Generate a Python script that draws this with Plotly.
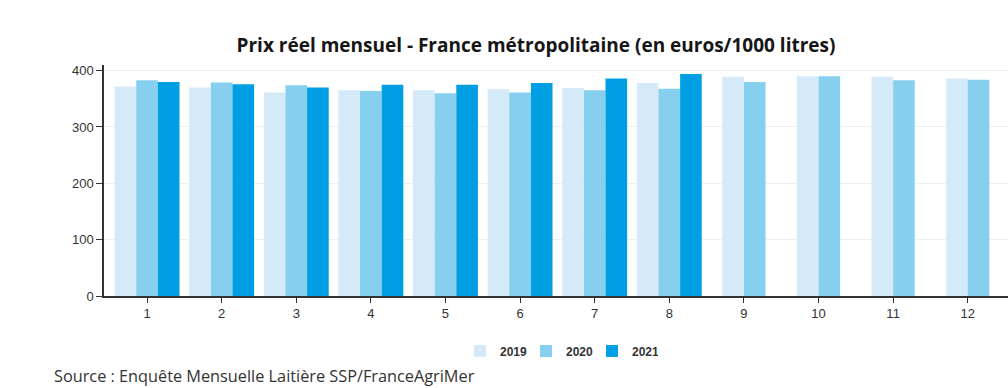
import plotly.graph_objects as go

months = [1, 2, 3, 4, 5, 6, 7, 8, 9, 10, 11, 12]
tick_labels = ["1", "2", "3", "4", "5", "6", "7", "8", "9", "10", "11", "12"]
prix_2019 = [372, 370, 361, 365, 365, 367, 369, 378, 389, 390, 389, 386]
prix_2020 = [383, 379, 374, 364, 360, 361, 365, 368, 380, 390, 383, 384]
prix_2021 = [380, 376, 370, 375, 375, 378, 386, 394]

series = [
    ("2019", prix_2019, "#d5eaf9"),
    ("2020", prix_2020, "#86cfee"),
    ("2021", prix_2021, "#009fe3"),
]

bar_w = 0.29
fig = go.Figure()
for idx, (name, vals, color) in enumerate(series):
    xs, offs = [], []
    for i, v in enumerate(vals):
        n_present = sum(1 for _, s, _ in series if i < len(s) and s[i] is not None)
        xs.append(months[i])
        offs.append(-n_present * bar_w / 2 + idx * bar_w)
    fig.add_trace(go.Bar(
        x=xs, y=vals, name=name, marker=dict(color=color, line=dict(width=0)),
        width=bar_w, offset=offs,
    ))

fig.update_layout(
    width=1008, height=388,
    margin=dict(l=104, r=0, t=65, b=92),
    paper_bgcolor="white", plot_bgcolor="white",
    barmode="overlay",
    title=dict(
        text="<b>Prix réel mensuel - France métropolitaine (en euros/1000 litres)</b>",
        x=536 / 1008, xanchor="center", y=1 - 45 / 388, yanchor="middle",
        font=dict(family="Open Sans", size=19, color="#161616"),
    ),
    xaxis=dict(
        range=[0.423, 12.54], tickmode="array", tickvals=months, ticktext=tick_labels,
        showline=True, linecolor="#333", linewidth=1.5, ticks="outside", ticklen=5,
        tickcolor="#333", showgrid=False, zeroline=False,
        tickfont=dict(family="Liberation Sans", size=13, color="#333"),
    ),
    yaxis=dict(
        range=[0, 410], tickvals=[0, 100, 200, 300, 400],
        showline=True, linecolor="#333", linewidth=1.5, ticks="outside", ticklen=6,
        tickcolor="#333", gridcolor="#efefef", zeroline=False,
        tickfont=dict(family="Liberation Sans", size=13, color="#333"),
    ),
    legend=dict(
        orientation="h", x=(559 - 104) / 904, xanchor="center", y=(296 - 351) / 231,
        yanchor="middle", bgcolor="rgba(0,0,0,0)",
        font=dict(family="Liberation Sans Narrow, Liberation Sans", size=12,
                  color="#333", weight="bold"),
        itemwidth=30, traceorder="normal", entrywidth=21, entrywidthmode="pixels",
    ),
    showlegend=True,
    annotations=[dict(
        text="Source : Enquête Mensuelle Laitière SSP/FranceAgriMer",
        xref="paper", yref="paper", x=-52 / 904, y=(296 - 376) / 231,
        xanchor="left", yanchor="middle", showarrow=False,
        font=dict(family="Open Sans", size=16.3, color="#333"),
    )],
)

fig.write_html("out.html", post_script="document.body.style.margin='0';",
               config={"displayModeBar": False})
